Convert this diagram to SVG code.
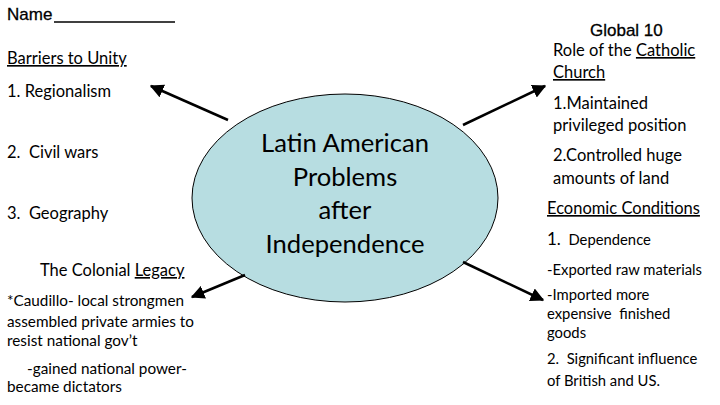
<svg xmlns="http://www.w3.org/2000/svg" width="720" height="405" viewBox="0 0 720 405">
<defs>
<style>
text{white-space:pre}
.a{font-family:"Liberation Sans",Arial,sans-serif;font-size:17px;fill:#000;stroke:#000;stroke-width:0.3}
.t{font-family:Lato,"Open Sans",sans-serif;fill:#000}
.s16{font-size:16.5px}.s15{font-size:15.3px}.s14{font-size:14.8px}
.c{font-family:Lato,"Open Sans",sans-serif;font-size:25.6px;fill:#000;text-anchor:middle}
.u{text-decoration:underline}
.conn{stroke:#000;stroke-width:2.5;fill:none;marker-end:url(#ah)}
</style>
<marker id="ah" viewBox="0 0 10 10" refX="9" refY="5" markerWidth="5.5" markerHeight="5.5" orient="auto" markerUnits="strokeWidth">
<path d="M0,0 L10,5 L0,10 z" fill="#000"/>
</marker>
</defs>
<rect width="720" height="405" fill="#fff"/>
<g id="header">
<text class="a" x="7" y="20">Name</text>
<line x1="54" y1="22" x2="175" y2="22" stroke="#000" stroke-width="1.5"/>
<text class="a" x="590" y="36">Global 10</text>
</g>
<g id="center">
<ellipse cx="345" cy="198" rx="153" ry="104" fill="#b7dde1" stroke="#000" stroke-width="1"/>
<text class="c" x="345" y="152">Latin American</text>
<text class="c" x="345" y="186">Problems</text>
<text class="c" x="345" y="219">after</text>
<text class="c" x="345" y="253">Independence</text>
</g>
<g id="barriers">
<text class="t s16 u" x="7" y="64">Barriers to Unity</text>
<text class="t s16" x="7" y="97">1. Regionalism</text>
<text class="t s16" x="7" y="158">2.  Civil wars</text>
<text class="t s16" x="7" y="219">3.  Geography</text>
</g>
<g id="colonial">
<text class="t s16" x="40" y="276">The Colonial <tspan class="u">Legacy</tspan></text>
<text class="t s15" x="7" y="306">*Caudillo- local strongmen</text>
<text class="t s15" x="7" y="327">assembled private armies to</text>
<text class="t s15" x="7" y="346">resist national gov’t</text>
<text class="t s15" x="27" y="374">-gained national power-</text>
<text class="t s15" x="7" y="392">became dictators</text>
</g>
<g id="church">
<text class="t s16" x="553" y="56">Role of the <tspan class="u">Catholic</tspan></text>
<text class="t s16 u" x="553" y="78">Church</text>
<text class="t s16" x="553" y="109">1.Maintained</text>
<text class="t s16" x="553" y="131">privileged position</text>
<text class="t s16" x="553" y="161">2.Controlled huge</text>
<text class="t s16" x="553" y="184">amounts of land</text>
</g>
<g id="economic">
<text class="t s16 u" x="547" y="214">Economic Conditions</text>
<text class="t s14" x="547" y="245"><tspan font-size="17px">1.</tspan>  Dependence</text>
<text class="t s14" x="547" y="275">-Exported raw materials</text>
<text class="t s14" x="547" y="300">-Imported more</text>
<text class="t s14" x="547" y="319">expensive  finished</text>
<text class="t s14" x="547" y="338">goods</text>
<text class="t s14" x="547" y="364">2.  Significant influence</text>
<text class="t s14" x="547" y="386">of British and US.</text>
</g>
<g id="connectors">
<line class="conn" x1="228" y1="120" x2="151" y2="86"/>
<line class="conn" x1="463" y1="125" x2="545" y2="86"/>
<line class="conn" x1="245" y1="275" x2="192" y2="297"/>
<line class="conn" x1="463" y1="262" x2="543" y2="300"/>
</g>
</svg>
